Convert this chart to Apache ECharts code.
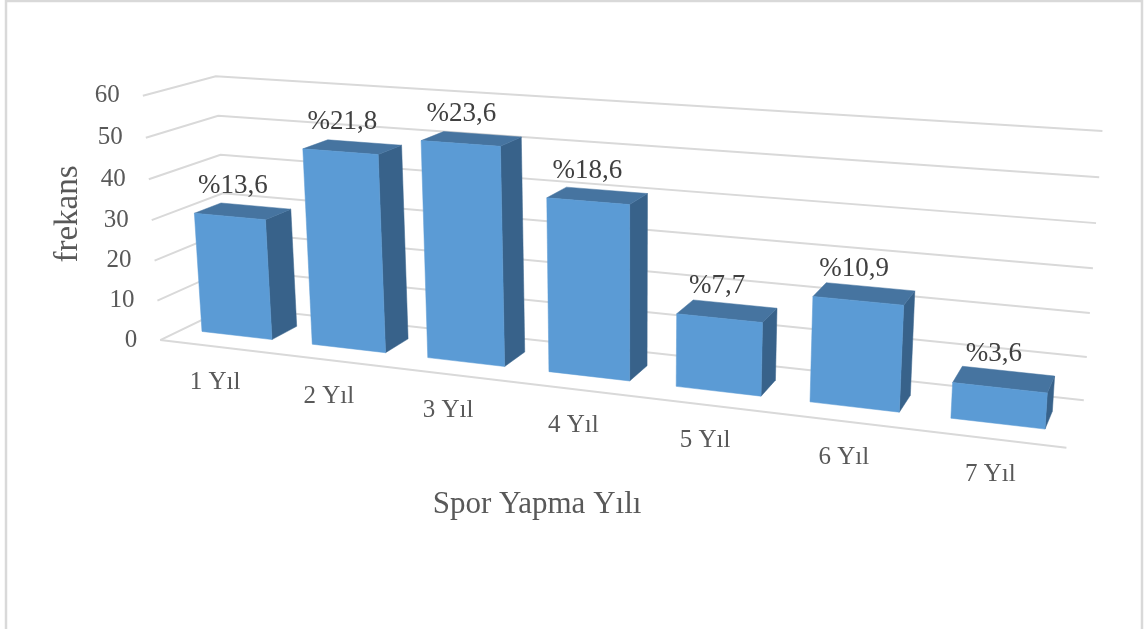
<!DOCTYPE html>
<html><head><meta charset="utf-8"><style>html,body{margin:0;background:#fff}#c{width:1144px;height:629px}</style>
<script src="https://cdn.jsdelivr.net/npm/echarts@6/dist/echarts.min.js"></script></head><body><div id="c"></div>
<script>
const categories=['1 Yıl','2 Yıl','3 Yıl','4 Yıl','5 Yıl','6 Yıl','7 Yıl'];
const frequencies=[30,48,52,41,17,24,8];
const percentLabels=['%13,6','%21,8','%23,6','%18,6','%7,7','%10,9','%3,6'];
const yTicks=[0,10,20,30,40,50,60];
// Camera of the 3-D view: maps (category share u, value share v, depth w) to the page.
const CAMERA=[733.2379,-22.45948,84.19472,160.2314, 34.94185,-247.7161,-13.91907,340.0958, -0.162188,-0.0356016,0.0642510];
const GAP=0.18,DEPTH=0.31;
const project=(u,v,w)=>{const P=CAMERA,d=P[8]*u+P[9]*v+P[10]*w+1;return [(P[0]*u+P[1]*v+P[2]*w+P[3])/d,(P[4]*u+P[5]*v+P[6]*w+P[7])/d];};
const SERIF='"Liberation Serif"',TXT='#595959';
function norm(params,api,i,val){const c=params.coordSys,p=api.coord([i,val]);return [(p[0]-c.x)/c.width,(c.y+c.height-p[1])/c.height];}
const chart=echarts.init(document.getElementById('c'),null,{renderer:'canvas'});
function poly(pts,fill){return {type:'polygon',shape:{points:pts},style:{fill,stroke:fill,lineWidth:.5}};}
chart.setOption({animation:false,
grid:{left:0,top:0,width:700,height:600},
xAxis:{type:'category',data:categories,show:false},
yAxis:{type:'value',min:0,max:60,interval:10,show:false},
graphic:[{type:'rect',shape:{x:6,y:1,width:1136,height:660},style:{fill:'none',stroke:'#D9D9D9',lineWidth:2.5},silent:true},
{type:'text',x:68,y:214,rotation:Math.PI/2,style:{text:'frekans',font:'33px '+SERIF,fill:TXT,textAlign:'center',textVerticalAlign:'middle'}},
{type:'text',x:537,y:505,style:{text:'Spor Yapma Yılı',font:'31px '+SERIF,fill:TXT,textAlign:'center',textVerticalAlign:'middle'}}],
series:[
{type:'custom',z:1,clip:false,data:yTicks.map(t=>[0,t]),renderItem(params,api){const v=norm(params,api,0,api.value(1))[1];
 const ch=[{type:'polyline',shape:{points:[project(0,v,0),project(0,v,1),project(1,v,1)]},style:{fill:'none',stroke:'#D9D9D9',lineWidth:2}}];
 if(api.value(1)===0){const a=project(0,0,0),b=project(1,0,0);ch.push({type:'line',shape:{x1:a[0],y1:a[1],x2:b[0],y2:b[1]},style:{stroke:'#D9D9D9',lineWidth:2}});}
 const a=project(0,v,0);ch.push({type:'text',x:a[0]-23,y:a[1],style:{text:String(api.value(1)),font:'25px '+SERIF,fill:TXT,textAlign:'right',textVerticalAlign:'middle'}});
 return {type:'group',children:ch};}},
{type:'custom',z:2,clip:false,data:frequencies.map((f,i)=>[i,f]),renderItem(params,api){const i=api.value(0),val=api.value(1);const n=norm(params,api,i,val),bw=api.size([1,0])[0]/params.coordSys.width;
 const uc=n[0],u0=uc-bw*(.5-GAP),u1=uc+bw*(.5-GAP),v=n[1],w0=DEPTH,w1=1-DEPTH;
 const side=poly([project(u1,0,w0),project(u1,v,w0),project(u1,v,w1),project(u1,0,w1)],'#38628A');
 const top=poly([project(u0,v,w0),project(u1,v,w0),project(u1,v,w1),project(u0,v,w1)],'#4674A0');
 const front=poly([project(u0,0,w0),project(u1,0,w0),project(u1,v,w0),project(u0,v,w0)],'#5B9BD5');
 const tc=project(uc,v,.5),fe=project(uc,0,0);
 return {type:'group',children:[side,top,front,
 {type:'text',x:tc[0]-10,y:tc[1]-25,z2:5,style:{text:percentLabels[i],font:'27px '+SERIF,fill:'#404040',textAlign:'center',textVerticalAlign:'middle'}},
 {type:'text',x:fe[0],y:fe[1]+36,style:{text:categories[i],font:'25px '+SERIF,fill:TXT,textAlign:'center',textVerticalAlign:'middle'}}]};}}
]});
</script></body></html>
